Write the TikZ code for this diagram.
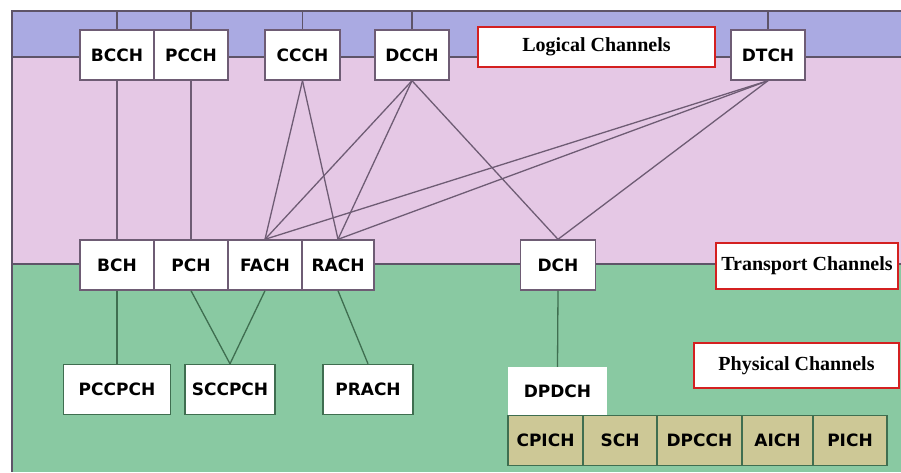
\documentclass[tikz,border=0pt]{standalone}
\usepackage{fontspec}
\setmainfont{Liberation Serif}
\setsansfont{DejaVu Sans}
\definecolor{logband}{HTML}{AAAAE2}
\definecolor{trband}{HTML}{E5C8E5}
\definecolor{phyband}{HTML}{89C9A2}
\definecolor{phyfill}{HTML}{CDC896}
\definecolor{rule}{HTML}{5E5468}
\definecolor{wire}{HTML}{6E5C74}
\definecolor{gwire}{HTML}{3F6E50}
\definecolor{tagred}{HTML}{D42020}

\begin{document}
\begin{tikzpicture}
    [x=1pt,y=-1pt,
     every node/.style={rectangle,inner sep=0pt,minimum height=50pt,
       font=\sffamily\bfseries\fontsize{17}{20}\selectfont},
     chan/.style={draw=wire,line width=1.4pt,fill=white},
     phys/.style={draw=gwire,line width=1.4pt,fill=phyfill},
     tag/.style={draw=tagred,line width=2.6pt,fill=white,minimum height=42pt,
       font=\rmfamily\bfseries\fontsize{20}{24}\selectfont}]
    \useasboundingbox (0,0) rectangle (901,472);
    % three layers
    \fill[logband] (12,11) rectangle (901,57);
    \fill[trband] (12,57) rectangle (901,264);
    \fill[phyband] (12,264) rectangle (901,472);
    \draw[rule,line width=2pt] (901,11) -- (12,11) -- (12,472);
    \draw[rule,line width=2pt] (12,57) -- (901,57);
    \draw[rule,line width=2pt] (12,264) -- (901,264);
    \coordinate (top) at (0,11);

    % logical channels
    \node[chan,minimum width=74pt] (bcch) at (117,55) {BCCH};
    \node[chan,minimum width=74pt] (pcch) at (191,55) {PCCH};
    \node[chan,minimum width=75pt] (ccch) at (302.5,55) {CCCH};
    \node[chan,minimum width=74pt] (dcch) at (412,55) {DCCH};
    \node[chan,minimum width=74pt] (dtch) at (768,55) {DTCH};
    \node[tag,minimum width=237pt,minimum height=40pt] (logical) at (596.5,47) {Logical Channels};

    % transport channels
    \node[chan,minimum width=74pt] (bch) at (117,265) {BCH};
    \node[chan,minimum width=74pt] (pch) at (191,265) {PCH};
    \node[chan,minimum width=74pt] (fach) at (265,265) {FACH};
    \node[chan,minimum width=72pt] (rach) at (338,265) {RACH};
    \node[chan,minimum width=75pt] (dch) at (558,265) {DCH};
    \node[tag,minimum width=182pt,minimum height=46pt] (transport) at (807,266) {Transport Channels};

    % physical channels
    \node[chan,draw=gwire,minimum width=107pt] (pccpch) at (117,389.5) {PCCPCH};
    \node[chan,draw=gwire,minimum width=90pt] (sccpch) at (230,389.5) {SCCPCH};
    \node[chan,draw=gwire,minimum width=90pt] (prach) at (368,389.5) {PRACH};
    \node[fill=white,minimum width=99pt,minimum height=48pt] (dpdch) at (557.5,391) {DPDCH};
    \node[phys,minimum width=75pt] (cpich) at (545.5,440.5) {CPICH};
    \node[phys,minimum width=74pt] (sch) at (620,440.5) {SCH};
    \node[phys,minimum width=85pt] (dpcch) at (699.5,440.5) {DPCCH};
    \node[phys,minimum width=71pt] (aich) at (777.5,440.5) {AICH};
    \node[phys,minimum width=74pt] (pich) at (850,440.5) {PICH};
    \node[tag,minimum width=205pt,minimum height=45pt] (physical) at (796.5,365.5) {Physical Channels};

    \foreach \n in {bcch,pcch,ccch,dcch,dtch}
      \draw[rule,line width=1.4pt] (\n.north) -- (\n.north |- top);
    \foreach \from/\to in {bcch/bch,pcch/pch,ccch/fach,ccch/rach,dcch/fach,dcch/rach,
                           dcch/dch,dtch/fach,dtch/rach,dtch/dch}
      \draw[wire,line width=1.3pt] (\from.south) -- (\to.north);
    \foreach \from/\to in {bch/pccpch,pch/sccpch,fach/sccpch,rach/prach,dch/dpdch}
      \draw[gwire,line width=1.3pt] (\from.south) -- (\to.north);
  \end{tikzpicture}
\end{document}
